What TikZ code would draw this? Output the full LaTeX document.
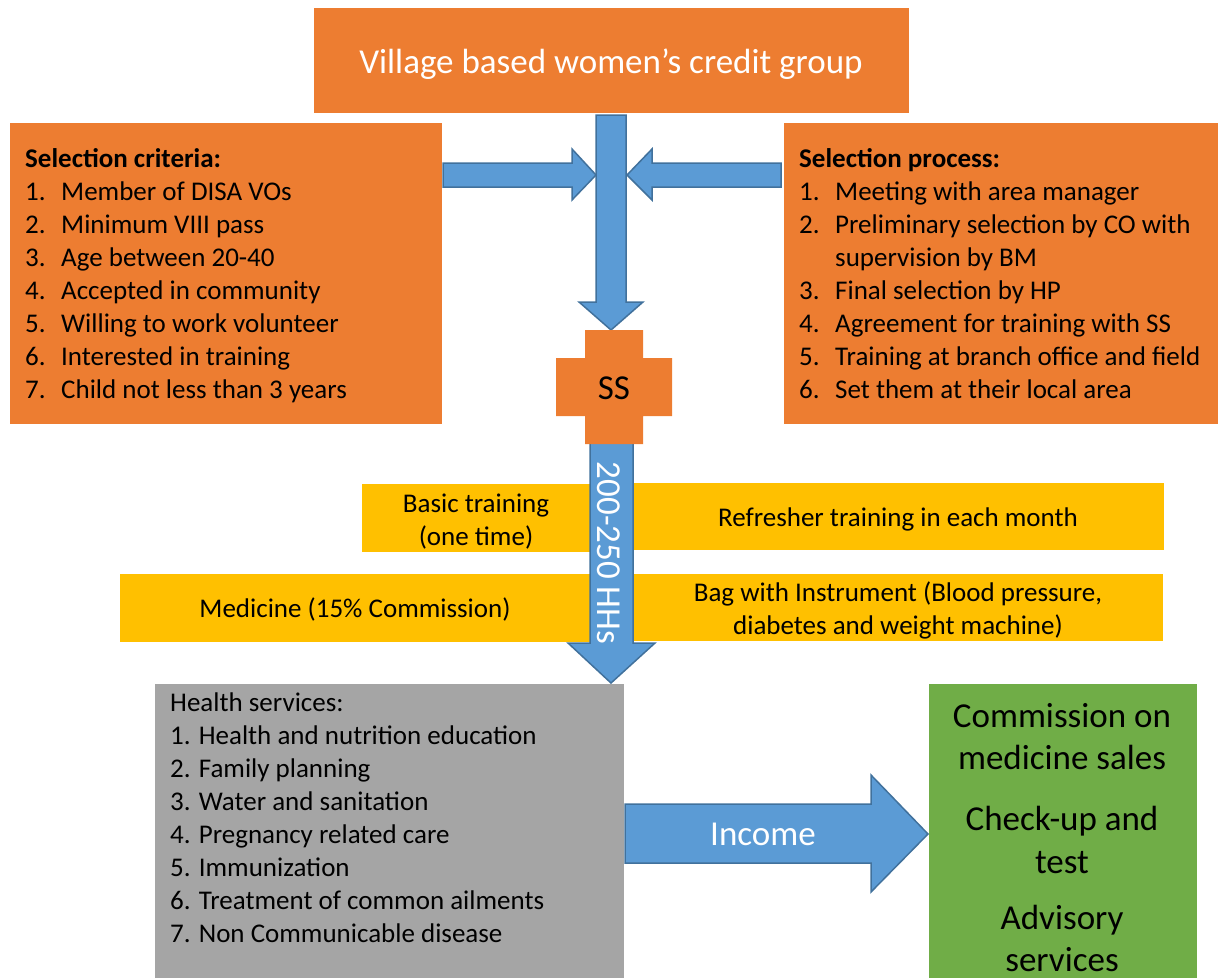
\documentclass[tikz,border=0pt]{standalone}
\usepackage{fontspec}
\setmainfont{Carlito}
\definecolor{cOr}{HTML}{ED7D31}
\definecolor{cBl}{HTML}{5B9BD5}
\definecolor{cBlD}{HTML}{41719C}
\definecolor{cYe}{HTML}{FFC000}
\definecolor{cGr}{HTML}{A5A5A5}
\definecolor{cGn}{HTML}{70AD47}
\newcommand{\itm}[1]{\makebox[36pt][l]{#1}}
\tikzset{
  body/.style={font=\fontsize{27}{33}\selectfont, inner sep=0pt, text=black},
  big/.style={font=\fontsize{35}{42.7}\selectfont, inner sep=0pt},
  blockarrow/.style={fill=cBl, draw=cBlD, line width=1.5pt, line join=miter},
}
\begin{document}
\begin{tikzpicture}[x=1pt,y=-1pt]
\useasboundingbox (0,0) rectangle (1218,978);
% top box
\fill[cOr] (314,8) rectangle (909,113);
\node[big, text=white, anchor=base] (title) at (611,73) {Village based women’s credit group};
% left box
\fill[cOr] (10,123) rectangle (442,424);
\node[body, anchor=north west, align=left] (crit) at (25,142) {\rule{0pt}{25pt}\textbf{Selection criteria:}\\
\itm{1.}Member of DISA VOs\\
\itm{2.}Minimum VIII pass\\
\itm{3.}Age between 20-40\\
\itm{4.}Accepted in community\\
\itm{5.}Willing to work volunteer\\
\itm{6.}Interested in training\\
\itm{7.}Child not less than 3 years};
% right box
\fill[cOr] (784,123) rectangle (1218,424);
\node[body, anchor=north west, align=left] (proc) at (799,142) {\rule{0pt}{25pt}\textbf{Selection process:}\\
\itm{1.}Meeting with area manager\\
\itm{2.}Preliminary selection by CO with\\
\itm{}supervision by BM\\
\itm{3.}Final selection by HP\\
\itm{4.}Agreement for training with SS\\
\itm{5.}Training at branch office and field\\
\itm{6.}Set them at their local area};
% side arrows
\draw[blockarrow] (443,163) -- (572,163) -- (572,149) -- (596,175) -- (572,200) -- (572,187) -- (443,187) -- cycle;
\draw[blockarrow] (781,163) -- (652,163) -- (652,149) -- (627,175) -- (652,200) -- (652,187) -- (781,187) -- cycle;
% vertical arrow top
\draw[blockarrow] (596,115) -- (626,115) -- (626,302) -- (643,302) -- (611,330) -- (579,302) -- (596,302) -- cycle;
% yellow boxes
\fill[cYe] (362,484) rectangle (590,552);
\node[body, anchor=north, align=center] (basic) at (476,487) {\rule{0pt}{25pt}Basic training\\(one time)};
\fill[cYe] (633,483) rectangle (1164,550);
\node[body, anchor=base] (refr) at (898,526) {Refresher training in each month};
\fill[cYe] (120,574) rectangle (590,642);
\node[body, anchor=base] (med) at (355,617) {Medicine (15\% Commission)};
\fill[cYe] (633,574) rectangle (1163,641);
\node[body, anchor=north, align=center] (bag) at (898,576) {\rule{0pt}{25pt}Bag with Instrument (Blood pressure,\\diabetes and weight machine)};
% lower vertical arrow
\draw[blockarrow] (590,436) -- (633,436) -- (633,643) -- (655,643) -- (611,683) -- (568,643) -- (590,643) -- cycle;
\node[big, text=white, anchor=base, rotate=-90] (hh) at (597,553) {200-250 HHs};
% SS cross
\fill[cOr] (585,330) -- (643,330) -- (643,358) -- (672,358) -- (672,416) -- (643,416) -- (643,444) -- (585,444) -- (585,416) -- (556,416) -- (556,358) -- (585,358) -- cycle;
\node[big, anchor=base] (ss) at (614,399) {SS};
% gray box
\fill[cGr] (155,684) rectangle (624,978);
\node[body, anchor=north west, align=left] (hs) at (170,686) {\rule{0pt}{25pt}Health services:\\
1. Health and nutrition education\\
2. Family planning\\
3. Water and sanitation\\
4. Pregnancy related care\\
5. Immunization\\
6. Treatment of common ailments\\
7. Non Communicable disease};
% green box
\fill[cGn] (929,684) rectangle (1197,978);
\node[big, anchor=north, align=center] (inc) at (1062,697) {\rule{0pt}{30pt}Commission on\\medicine sales\\[18pt]Check-up and\\test\\[13pt]Advisory\\services};
% income arrow
\draw[blockarrow] (625,804) -- (871,804) -- (871,775) -- (928,834) -- (871,892) -- (871,863) -- (625,863) -- cycle;
\node[big, text=white, anchor=base] (income) at (763,845) {Income};
\end{tikzpicture}
\end{document}
